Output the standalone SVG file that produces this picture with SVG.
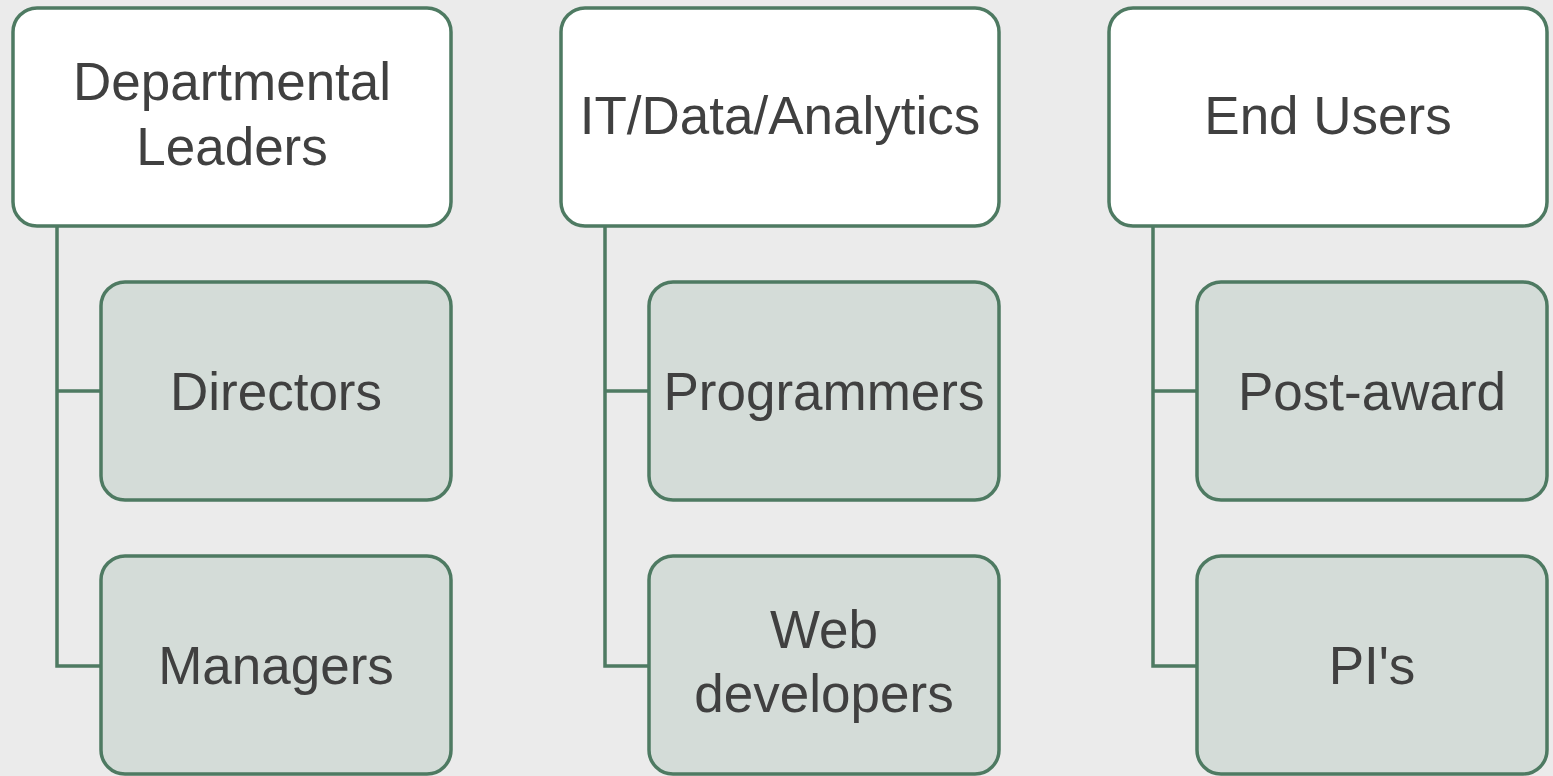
<svg xmlns="http://www.w3.org/2000/svg" width="1553" height="776" viewBox="0 0 1553 776">
<style>
.top{fill:#ffffff;stroke:#4e7a62;stroke-width:3.5}
.child{fill:#d4dcd8;stroke:#4e7a62;stroke-width:3.5}
.conn{fill:none;stroke:#4e7a62;stroke-width:3.5}
text{font-family:"Liberation Sans",Arial,sans-serif;font-size:53px;fill:#404040;text-anchor:middle}
</style>
<rect x="0" y="0" width="1553" height="776" fill="#ebebeb"/>
<g id="connectors">
<path class="conn" d="M57,226 V666 H100 M57,391 H100"/>
<path class="conn" d="M605,226 V666 H649 M605,391 H649"/>
<path class="conn" d="M1153,226 V666 H1197 M1153,391 H1197"/>
</g>
<g id="dept-leaders"><rect class="top" x="13" y="8" width="438" height="218" rx="24"/><text x="232" y="100">Departmental</text><text x="232" y="165">Leaders</text></g>
<g id="directors"><rect class="child" x="101" y="282" width="350" height="218" rx="24"/><text x="276" y="410">Directors</text></g>
<g id="managers"><rect class="child" x="101" y="556" width="350" height="218" rx="24"/><text x="276" y="684">Managers</text></g>
<g id="it-data"><rect class="top" x="561" y="8" width="438" height="218" rx="24"/><text x="780" y="134">IT/Data/Analytics</text></g>
<g id="programmers"><rect class="child" x="649" y="282" width="350" height="218" rx="24"/><text x="824" y="410">Programmers</text></g>
<g id="web-devs"><rect class="child" x="649" y="556" width="350" height="218" rx="24"/><text x="824" y="648">Web</text><text x="824" y="712">developers</text></g>
<g id="end-users"><rect class="top" x="1109" y="8" width="438" height="218" rx="24"/><text x="1328" y="134">End Users</text></g>
<g id="post-award"><rect class="child" x="1197" y="282" width="350" height="218" rx="24"/><text x="1372" y="410">Post-award</text></g>
<g id="pis"><rect class="child" x="1197" y="556" width="350" height="218" rx="24"/><text x="1372" y="684">PI's</text></g>
</svg>
